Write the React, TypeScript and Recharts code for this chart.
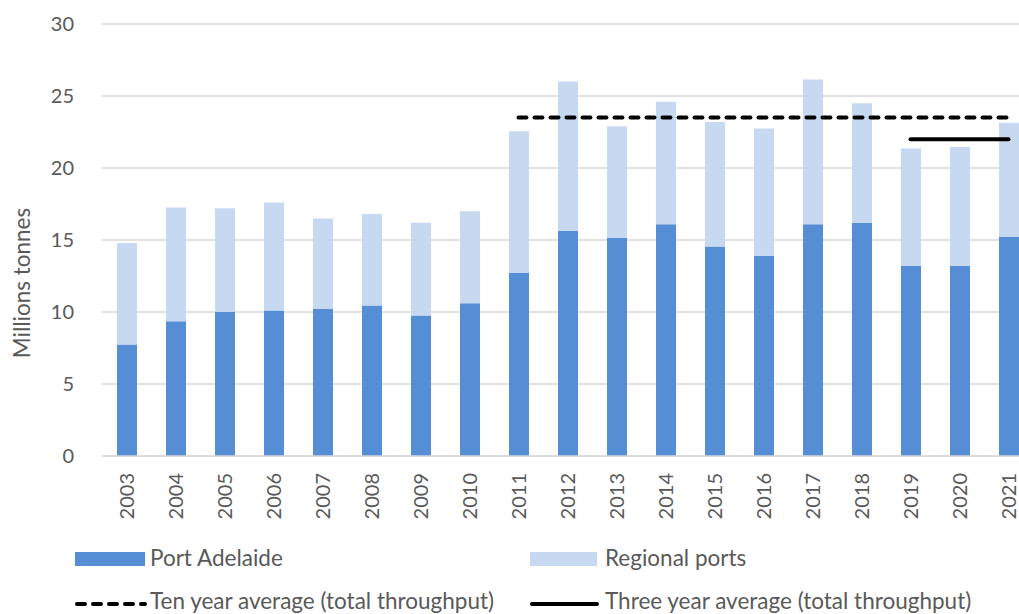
import React from 'react';
import {
  ComposedChart,
  Bar,
  Line,
  XAxis,
  YAxis,
  CartesianGrid,
  Legend,
} from 'recharts';

const years = [
  '2003', '2004', '2005', '2006', '2007', '2008', '2009', '2010', '2011', '2012',
  '2013', '2014', '2015', '2016', '2017', '2018', '2019', '2020', '2021',
];
const portAdelaide = [
  7.75, 9.35, 10.0, 10.1, 10.2, 10.45, 9.75, 10.6, 12.7, 15.65,
  15.15, 16.1, 14.55, 13.9, 16.1, 16.2, 13.2, 13.2, 15.2,
];
const regionalPorts = [
  7.05, 7.9, 7.2, 7.5, 6.3, 6.35, 6.45, 6.4, 9.85, 10.35,
  7.75, 8.5, 8.65, 8.85, 10.05, 8.3, 8.15, 8.25, 7.95,
];
const tenYearAvg = [
  null, null, null, null, null, null, null, null, 23.5, 23.5,
  23.5, 23.5, 23.5, 23.5, 23.5, 23.5, 23.5, 23.5, 23.5,
];
const threeYearAvg = [
  null, null, null, null, null, null, null, null, null, null,
  null, null, null, null, null, null, 22, 22, 22,
];
const yTicks = [0, 5, 10, 15, 20, 25, 30];

const data = years.map((year, i) => ({
  year,
  port: portAdelaide[i],
  regional: regionalPorts[i],
  ten: tenYearAvg[i],
  three: threeYearAvg[i],
}));

const FONT = 'Lato, "Open Sans", sans-serif';
const TEXT = '#595959';
const DARK = '#558ED5';
const LIGHT = '#C6D9F1';

const YearTick = (props: any) => {
  const { x, y, payload } = props;
  return (
    <g transform={`translate(${x},${y})`}>
      <text
        transform="rotate(-90)"
        textAnchor="end"
        dy="0.36em"
        fill={TEXT}
        fontSize={20}
        fontFamily={FONT}
      >
        {payload.value}
      </text>
    </g>
  );
};

const YLabel = (props: any) => {
  const { viewBox } = props;
  const cx = viewBox.x + 21;
  const cy = viewBox.y + viewBox.height / 2 + 43;
  return (
    <text
      x={cx}
      y={cy}
      transform={`rotate(-90, ${cx}, ${cy})`}
      textAnchor="middle"
      dominantBaseline="central"
      fill={TEXT}
      fontSize={22.5}
      fontFamily={FONT}
    >
      Millions tonnes
    </text>
  );
};

const legendText: React.CSSProperties = {
  position: 'absolute',
  fontSize: 22.5,
  fontFamily: FONT,
  color: TEXT,
  lineHeight: '24px',
  whiteSpace: 'nowrap',
};

const ChartLegend = () => (
  <div style={{ position: 'relative', height: 88, width: 1040 }}>
    <div style={{ position: 'absolute', left: 75, top: 26, width: 70, height: 14, background: DARK }} />
    <div style={{ ...legendText, left: 150, top: 20 }}>Port Adelaide</div>
    <div style={{ position: 'absolute', left: 530, top: 26, width: 67, height: 14, background: LIGHT }} />
    <div style={{ ...legendText, left: 605, top: 20 }}>Regional ports</div>
    <svg style={{ position: 'absolute', left: 73, top: 74 }} width={76} height={8}>
      <line x1={4} y1={4} x2={72} y2={4} stroke="#000" strokeWidth={4} strokeDasharray="8 8" strokeLinecap="round" />
    </svg>
    <div style={{ ...legendText, left: 150, top: 63 }}>Ten year average (total throughput)</div>
    <svg style={{ position: 'absolute', left: 528, top: 74 }} width={73} height={8}>
      <line x1={4} y1={4} x2={69} y2={4} stroke="#000" strokeWidth={4} strokeLinecap="round" />
    </svg>
    <div style={{ ...legendText, left: 605, top: 63 }}>Three year average (total throughput)</div>
  </div>
);

export default function App() {
  return (
    <div
      style={{
        position: 'absolute',
        left: 0,
        top: 0,
        width: 1019,
        height: 614,
        overflow: 'hidden',
        background: '#fff',
      }}
    >
      <ComposedChart
        width={1040}
        height={614}
        data={data}
        margin={{ top: 24, right: 7, bottom: 0, left: 0 }}
      >
        <CartesianGrid vertical={false} stroke="#D9D9D9" strokeWidth={1.3} />
        <XAxis
          dataKey="year"
          height={70}
          tick={<YearTick />}
          tickLine={false}
          axisLine={{ stroke: '#D9D9D9', strokeWidth: 1.3 }}
          tickSize={0}
          tickMargin={17}
          interval={0}
        />
        <YAxis
          width={102}
          domain={[0, 30]}
          ticks={yTicks}
          tickLine={false}
          axisLine={false}
          tickSize={0}
          tickMargin={28}
          tick={{ fill: TEXT, fontSize: 20, fontFamily: FONT }}
          label={<YLabel />}
        />
        <Legend verticalAlign="bottom" content={<ChartLegend />} />
        <Bar dataKey="port" stackId="a" fill={DARK} barSize={20} isAnimationActive={false} />
        <Bar dataKey="regional" stackId="a" fill={LIGHT} barSize={20} isAnimationActive={false} />
        <Line
          dataKey="ten"
          stroke="#000"
          strokeWidth={4}
          strokeDasharray="8 8"
          strokeLinecap="round"
          dot={false}
          activeDot={false}
          type="linear"
          isAnimationActive={false}
        />
        <Line
          dataKey="three"
          stroke="#000"
          strokeWidth={4}
          strokeLinecap="round"
          dot={false}
          activeDot={false}
          type="linear"
          isAnimationActive={false}
        />
      </ComposedChart>
    </div>
  );
}
